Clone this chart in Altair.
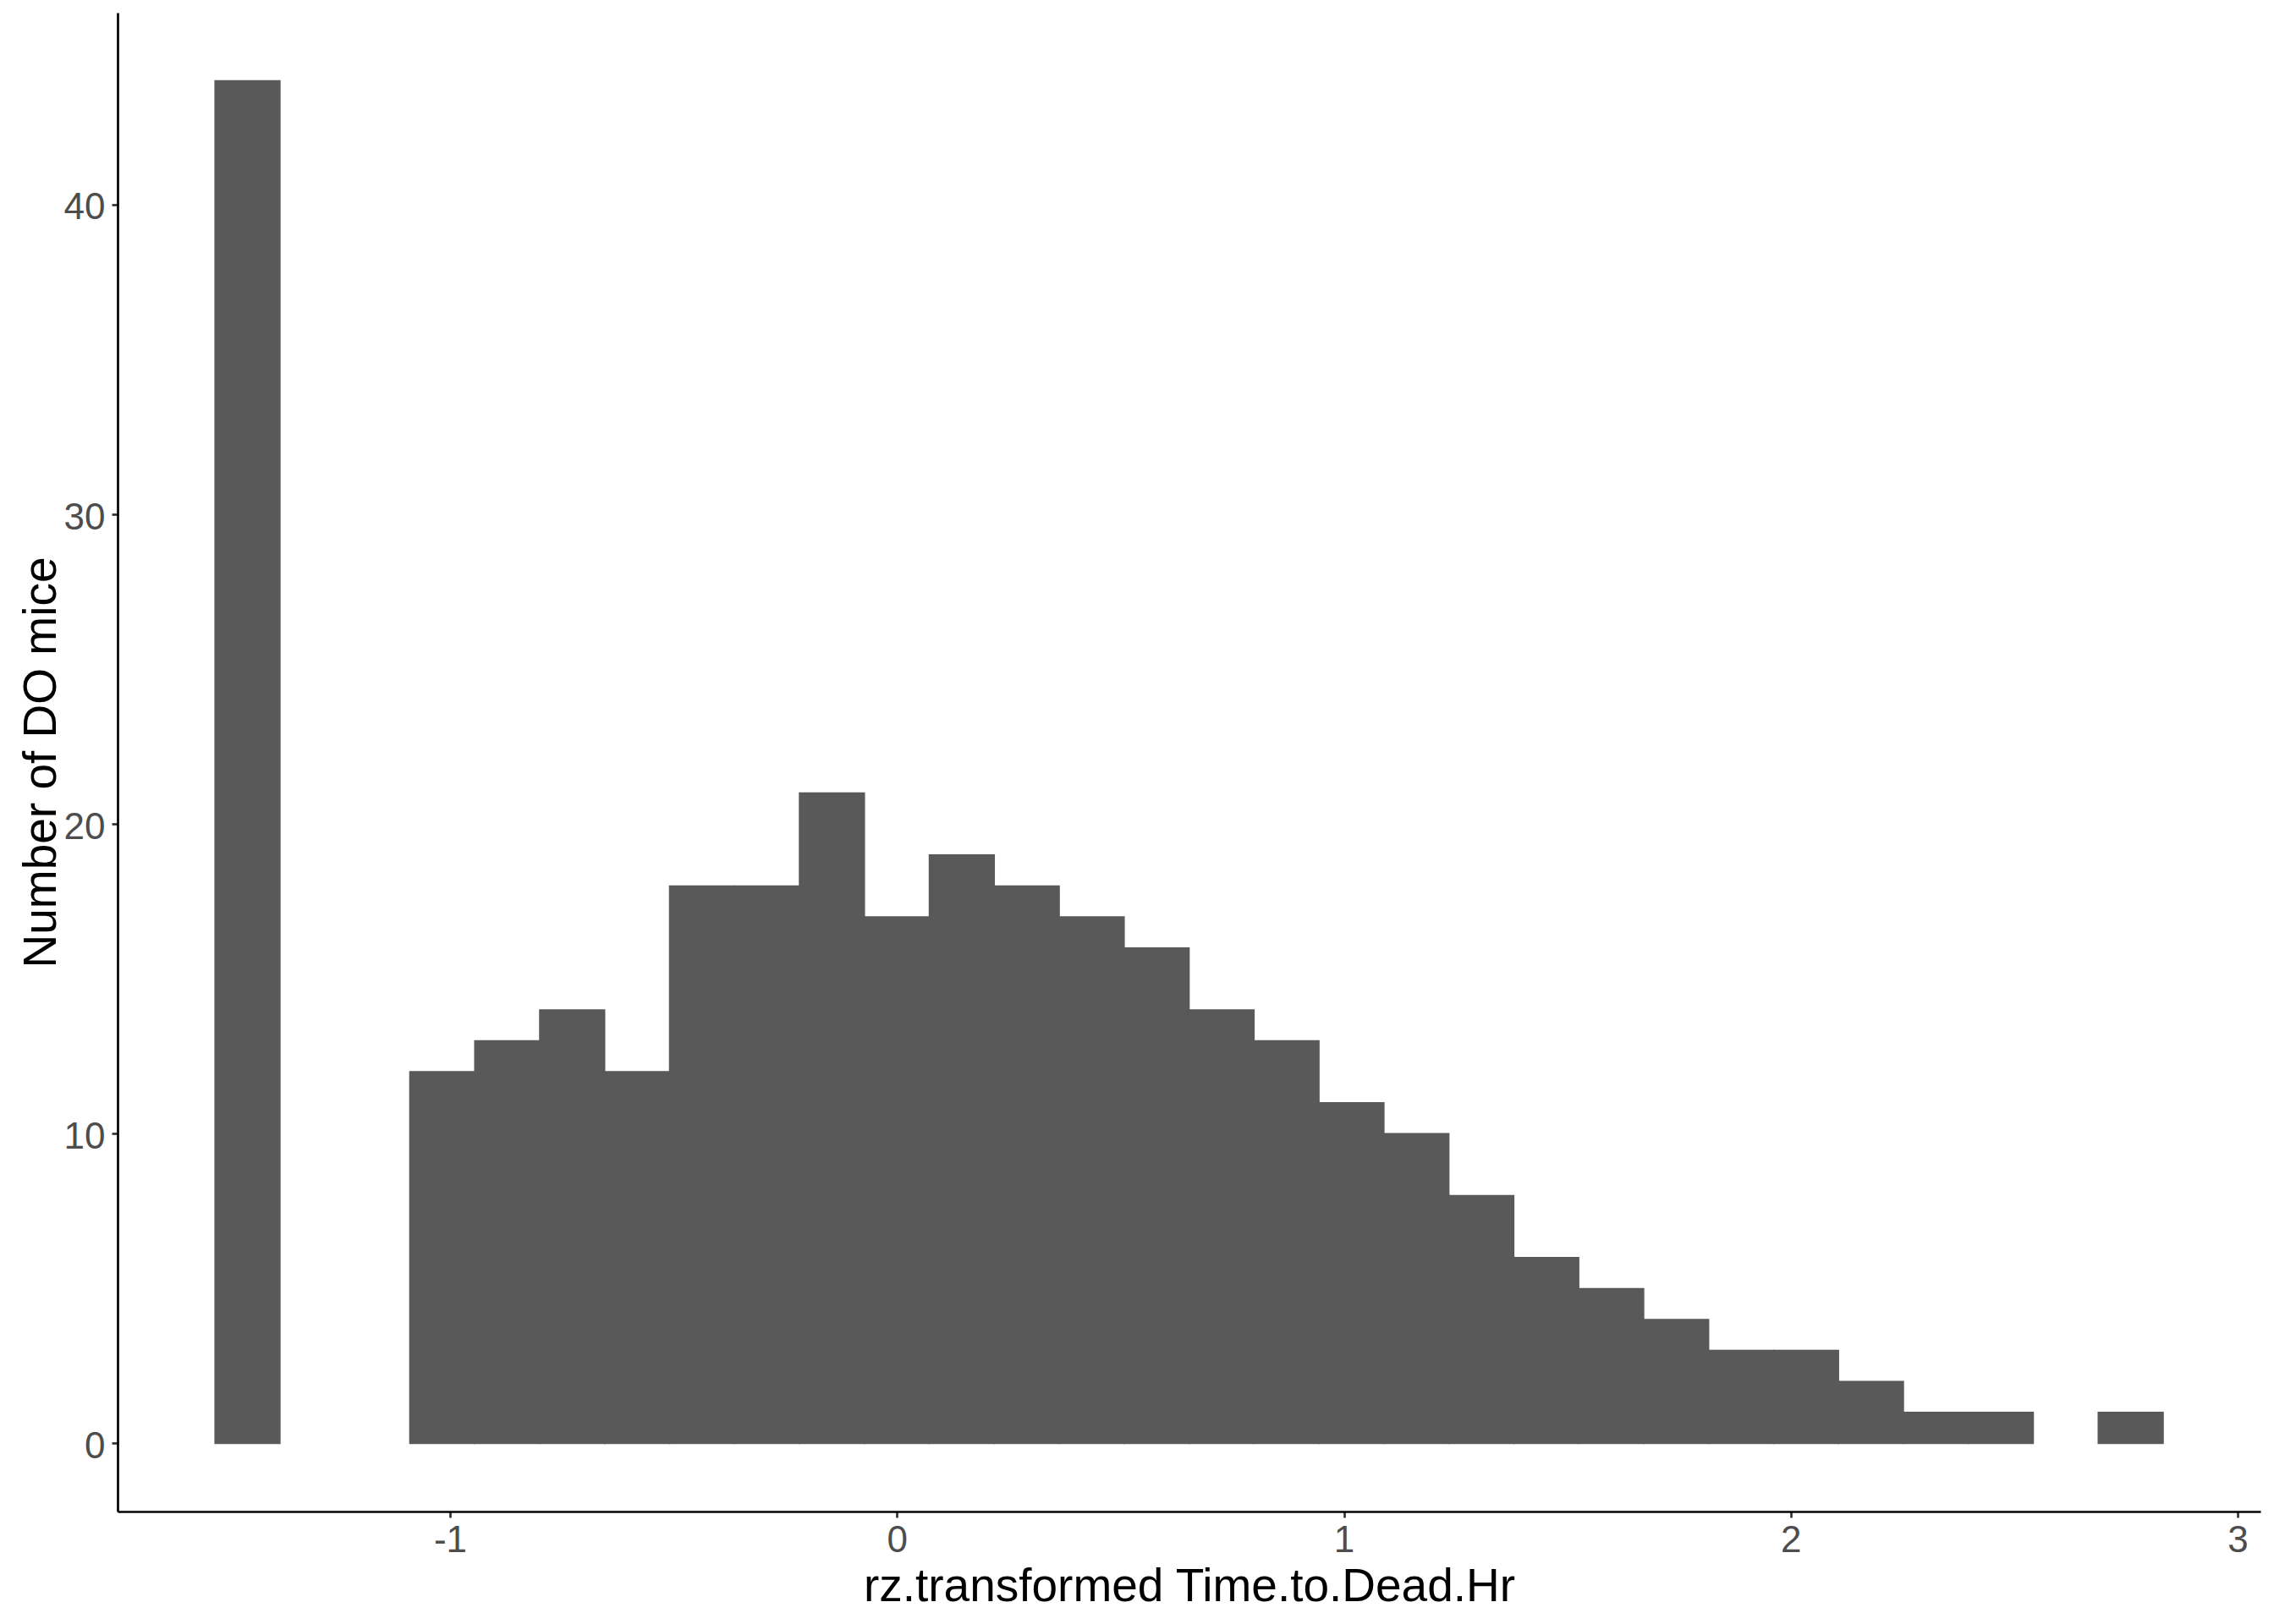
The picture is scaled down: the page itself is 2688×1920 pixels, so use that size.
import altair as alt
import pandas as pd

# Histogram (30 bins)
bin_first_edge = -1.526
bin_width = 0.14531
counts = [44, 0, 0, 12, 13, 14, 12, 18, 18, 21, 17, 19, 18, 17, 16,
          14, 13, 11, 10, 8, 6, 5, 4, 3, 3, 2, 1, 1, 0, 1]
x_ticks = [-1, 0, 1, 2, 3]
y_ticks = [0, 10, 20, 30, 40]
x_title = "rz.transformed Time.to.Dead.Hr"
y_title = "Number of DO mice"

starts = [round(bin_first_edge + i * bin_width, 5) for i in range(len(counts))]
ends = [round(s + bin_width, 5) for s in starts]
df = pd.DataFrame({"start": starts, "end": ends, "count": counts})
df = df[df["count"] > 0]

W, H = 2533, 1772
FONT = "Liberation Sans"

x_axis = alt.Axis(
    values=x_ticks, grid=False, labelExpr="'' + datum.value",
    tickSize=7, tickColor="#333333", tickWidth=2.7,
    domainColor="black", domainWidth=2.7,
    labelFont=FONT, labelFontSize=44, labelColor="#4D4D4D", labelPadding=5,
    labelFlush=False, labelOverlap=False,
    title=x_title, titleFont=FONT, titleFontSize=55, titleFontWeight="normal",
    titleColor="black", titleX=W / 2, titleY=105, titleAlign="center",
    titleBaseline="alphabetic",
)
y_axis = alt.Axis(
    values=y_ticks, grid=False, labelExpr="'' + datum.value",
    tickSize=7, tickColor="#333333", tickWidth=2.7,
    domainColor="black", domainWidth=2.7,
    labelFont=FONT, labelFontSize=44, labelColor="#4D4D4D", labelPadding=8,
    labelOffset=4, labelFlush=False, labelOverlap=False,
    title=y_title, titleFont=FONT, titleFontSize=55, titleFontWeight="normal",
    titleColor="black", titleX=-74, titleY=886, titleAlign="center",
    titleBaseline="alphabetic", titleAngle=270,
)

chart = alt.Chart(df).mark_rect(color="#595959", stroke="#595959", strokeWidth=1.5).encode(
    x=alt.X("start:Q", scale=alt.Scale(domain=[-1.7440, 3.0510], nice=False, zero=False), axis=x_axis),
    x2="end:Q",
    y=alt.Y("count:Q", scale=alt.Scale(domain=[-2.2, 46.2], nice=False, zero=False), axis=y_axis),
    y2=alt.datum(0),
).properties(
    width=W, height=H,
    autosize=alt.AutoSizeParams(type="none"),
    padding={"left": 131, "top": 7, "right": 8, "bottom": 125},
    background="white",
).configure_view(stroke=None)

chart.save("out.html", embed_options={"renderer": "svg", "actions": False})
